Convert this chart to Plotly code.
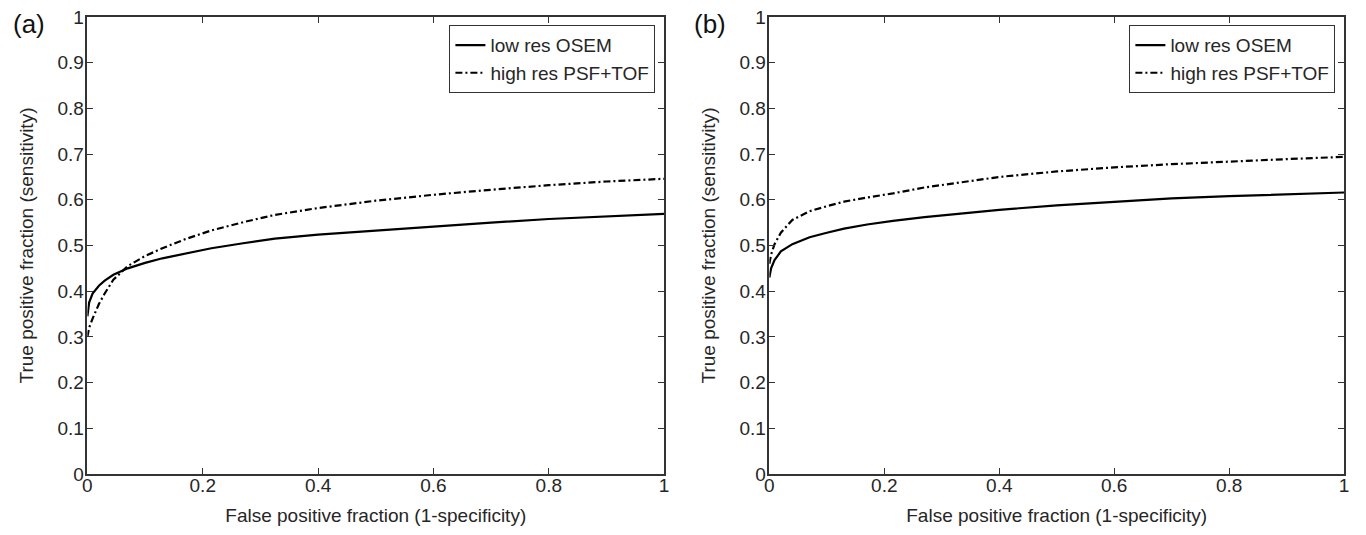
import plotly.graph_objects as go

# ---------------- data ----------------
a_x_osem = [0, 0.003, 0.009, 0.02, 0.03, 0.045, 0.07, 0.1, 0.13, 0.17, 0.215, 0.27, 0.325, 0.4, 0.5, 0.6, 0.7, 0.8, 0.9, 1.0]
a_y_osem = [0.345, 0.375, 0.395, 0.412, 0.423, 0.436, 0.45, 0.462, 0.472, 0.483, 0.494, 0.505, 0.515, 0.524, 0.533, 0.541, 0.550, 0.558, 0.564, 0.569]
a_x_psf = [0, 0.003, 0.009, 0.02, 0.03, 0.045, 0.07, 0.1, 0.13, 0.17, 0.215, 0.27, 0.325, 0.4, 0.5, 0.6, 0.7, 0.8, 0.9, 1.0]
a_y_psf = [0.30, 0.32, 0.34, 0.372, 0.395, 0.425, 0.455, 0.477, 0.494, 0.514, 0.533, 0.551, 0.567, 0.582, 0.598, 0.611, 0.622, 0.632, 0.640, 0.646]

b_x_osem = [0, 0.003, 0.009, 0.02, 0.04, 0.07, 0.1, 0.13, 0.17, 0.215, 0.27, 0.325, 0.4, 0.5, 0.6, 0.7, 0.8, 0.9, 1.0]
b_y_osem = [0.43, 0.45, 0.468, 0.487, 0.503, 0.518, 0.528, 0.537, 0.546, 0.554, 0.562, 0.569, 0.578, 0.588, 0.596, 0.603, 0.608, 0.612, 0.616]
b_x_psf = [0, 0.003, 0.009, 0.02, 0.04, 0.07, 0.1, 0.13, 0.17, 0.215, 0.27, 0.325, 0.4, 0.5, 0.6, 0.7, 0.8, 0.9, 1.0]
b_y_psf = [0.46, 0.48, 0.503, 0.528, 0.556, 0.575, 0.586, 0.596, 0.605, 0.614, 0.627, 0.637, 0.65, 0.662, 0.671, 0.678, 0.684, 0.689, 0.694]

series_names = ["low res OSEM", "high res PSF+TOF"]
x_tickvals = [0, 0.2, 0.4, 0.6, 0.8, 1]
x_ticktext = ["0", "0.2", "0.4", "0.6", "0.8", "1"]
y_tickvals = [0, 0.1, 0.2, 0.3, 0.4, 0.5, 0.6, 0.7, 0.8, 0.9, 1]
y_ticktext = ["0", "0.1", "0.2", "0.3", "0.4", "0.5", "0.6", "0.7", "0.8", "0.9", "1"]
panel_labels = ["(a)", "(b)"]
x_title = "False positive fraction (1-specificity)"
y_title = "True positive fraction (sensitivity)"

# ---------------- figure ----------------
W, H = 1366, 535
FONT = "Liberation Sans, Arial, sans-serif"
dashdot = "7px,3px,2px,3px"
TXT = "#262626"

fig = go.Figure()
fig.add_trace(go.Scatter(x=a_x_osem, y=a_y_osem, mode="lines", name=series_names[0],
                         line=dict(color="black", width=2.2), xaxis="x", yaxis="y", legend="legend"))
fig.add_trace(go.Scatter(x=a_x_psf, y=a_y_psf, mode="lines", name=series_names[1],
                         line=dict(color="black", width=2.2, dash=dashdot), xaxis="x", yaxis="y", legend="legend"))
fig.add_trace(go.Scatter(x=b_x_osem, y=b_y_osem, mode="lines", name=series_names[0],
                         line=dict(color="black", width=2.2), xaxis="x2", yaxis="y2", legend="legend2"))
fig.add_trace(go.Scatter(x=b_x_psf, y=b_y_psf, mode="lines", name=series_names[1],
                         line=dict(color="black", width=2.2, dash=dashdot), xaxis="x2", yaxis="y2", legend="legend2"))

axis_common = dict(showline=True, linecolor="#333333", linewidth=1.5, mirror="ticks",
                   ticks="inside", ticklen=6, tickcolor="#333333", tickwidth=1.3,
                   showgrid=False, zeroline=False,
                   tickfont=dict(family=FONT, size=19, color=TXT))

xa = dict(axis_common, range=[0, 1], tickvals=x_tickvals, ticktext=x_ticktext,
          ticklabelstandoff=-7,
          title=dict(text=x_title, font=dict(family=FONT, size=19, color=TXT), standoff=14))
ya = dict(axis_common, range=[0, 1], tickvals=y_tickvals, ticktext=y_ticktext,
          ticklabelstandoff=-2,
          title=dict(text=y_title, font=dict(family=FONT, size=19, color=TXT), standoff=19))

top, bottom = 17, 474
leg_common = dict(xanchor="right", yanchor="top", bgcolor="white", bordercolor="#333333",
                  borderwidth=1.2, font=dict(family=FONT, size=19, color=TXT),
                  tracegroupgap=0, itemwidth=30)
fig.update_layout(
    width=W, height=H,
    margin=dict(l=0, r=0, t=top, b=H - bottom),
    paper_bgcolor="white", plot_bgcolor="white",
    font=dict(family=FONT, color=TXT),
    xaxis=dict(xa, domain=[83 / W, 664 / W], anchor="y"),
    yaxis=dict(ya, domain=[0, 1], anchor="x"),
    xaxis2=dict(xa, domain=[770 / W, 1349 / W], anchor="y2"),
    yaxis2=dict(ya, domain=[0, 1], anchor="x2"),
    legend=dict(leg_common, x=655 / W, y=(bottom - 25) / (bottom - top)),
    legend2=dict(leg_common, x=1340 / W, y=(bottom - 25) / (bottom - top)),
    showlegend=True,
)

for i, (px, py) in enumerate([(6, 24), (692, 24)]):
    fig.add_annotation(text=panel_labels[i], x=px / W, y=(bottom - py) / (bottom - top),
                       xref="paper", yref="paper", xanchor="left", yanchor="middle",
                       showarrow=False, font=dict(family=FONT, size=26, color="#111111"))

fig.write_html("out.html")
